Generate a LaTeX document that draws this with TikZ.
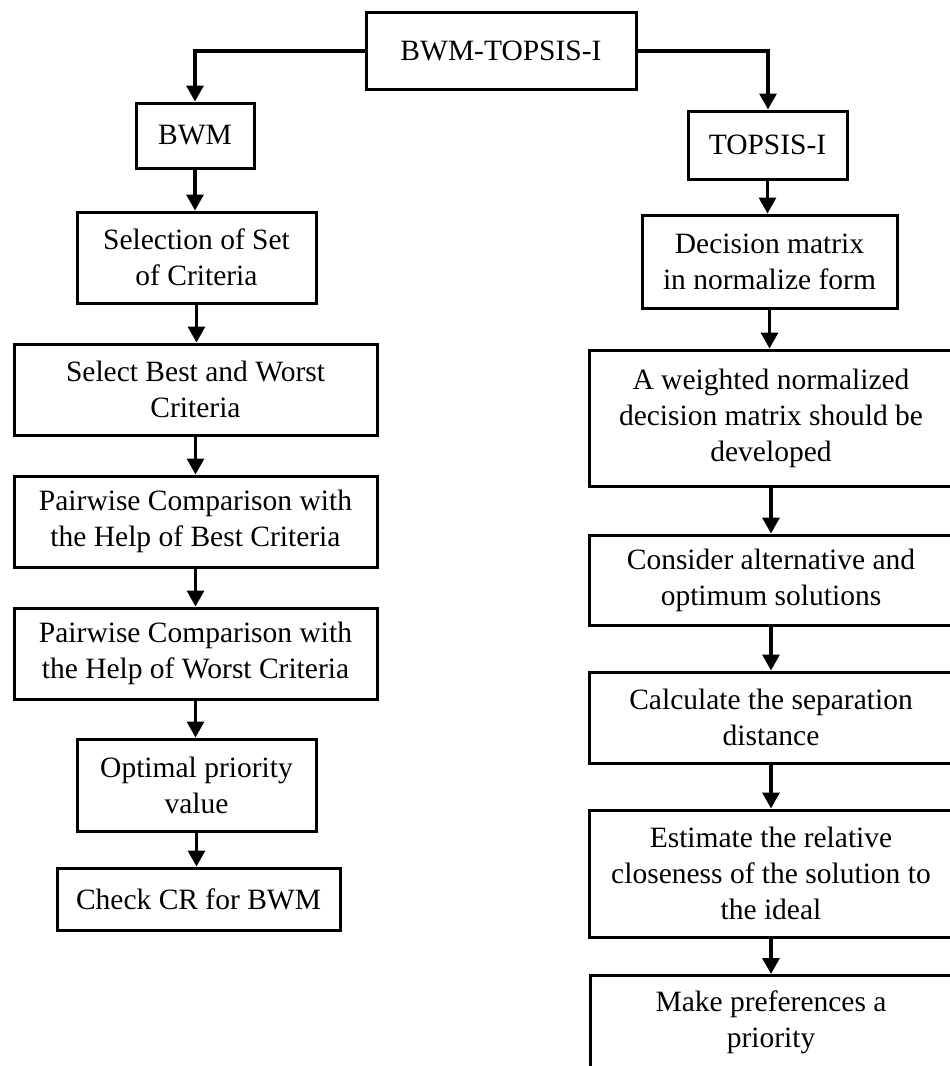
\documentclass[tikz,border=0pt]{standalone}
\usepackage{fontspec}
\setmainfont{Liberation Serif}
\usetikzlibrary{arrows.meta}
\tikzset{
  box/.style={draw=black, line width=3pt, fill=white, inner sep=0pt, align=center,
    font=\fontsize{29.5}{36}\selectfont},
  flow/.style={draw=black, line width=3.2pt, -{Triangle[width=17pt,length=16pt]}}
}
\newcommand{\bx}[6]{%
  \node[box, minimum width={#3-#2}, minimum height={#5-#4}] (#1) at ({(#2+#3)/2},{(#4+#5)/2}) {#6};}
\begin{document}
\begin{tikzpicture}[x=1pt,y=-1pt]
\useasboundingbox (0,0) rectangle (950,1066);
\clip (0,0) rectangle (950,1066);
\fill[white] (0,0) rectangle (950,1066);
\bx{top}{366}{636}{12}{89}{BWM-TOPSIS-I}
\bx{bwm}{136}{254}{103}{168}{BWM}
\bx{sel}{77}{316}{212}{303}{Selection of Set\\of Criteria}
\bx{best}{14}{377}{344}{435}{Select Best and Worst\\Criteria}
\bx{pwb}{14}{377}{476}{567}{Pairwise Comparison with\\the Help of Best Criteria}
\bx{pww}{14}{377}{608}{699}{Pairwise Comparison with\\the Help of Worst Criteria}
\bx{opt}{77}{316}{739}{831}{Optimal priority\\value}
\bx{chk}{57}{340}{868}{930}{Check CR for BWM}
\bx{tps}{688}{847}{111}{179}{TOPSIS-I}
\bx{dm}{642}{897}{215}{308}{Decision matrix\\in normalize form}
\bx{wt}{589}{953}{350}{486}{A weighted normalized\\decision matrix should be\\developed}
\bx{cons}{589}{953}{535}{625}{Consider alternative and\\optimum solutions}
\bx{calc}{589}{953}{672}{763}{Calculate the separation\\distance}
\bx{est}{589}{953}{810}{937}{Estimate the relative\\closeness of the solution to\\the ideal}
\node[box, minimum width=364pt, minimum height=106pt, anchor=north west] (make) at (589,974) {};
\node[align=center, font=\fontsize{29.5}{36}\selectfont, inner sep=0pt] (maketxt) at (771,1022) {Make preferences a\\priority};
\coordinate (tl) at (195,51);
\coordinate (tr) at (768,51);
\draw[flow] (top.west |- tl) -- (tl) -- (tl |- bwm.north);
\draw[flow] (top.east |- tr) -- (tr) -- (tr |- tps.north);
\foreach \a/\b in {bwm/sel,sel/best,best/pwb,pwb/pww,pww/opt,opt/chk,tps/dm,dm/wt,wt/cons,cons/calc,calc/est,est/make}{
  \draw[flow] (\a.south) -- (\a.south |- \b.north);
}
\end{tikzpicture}
\end{document}
